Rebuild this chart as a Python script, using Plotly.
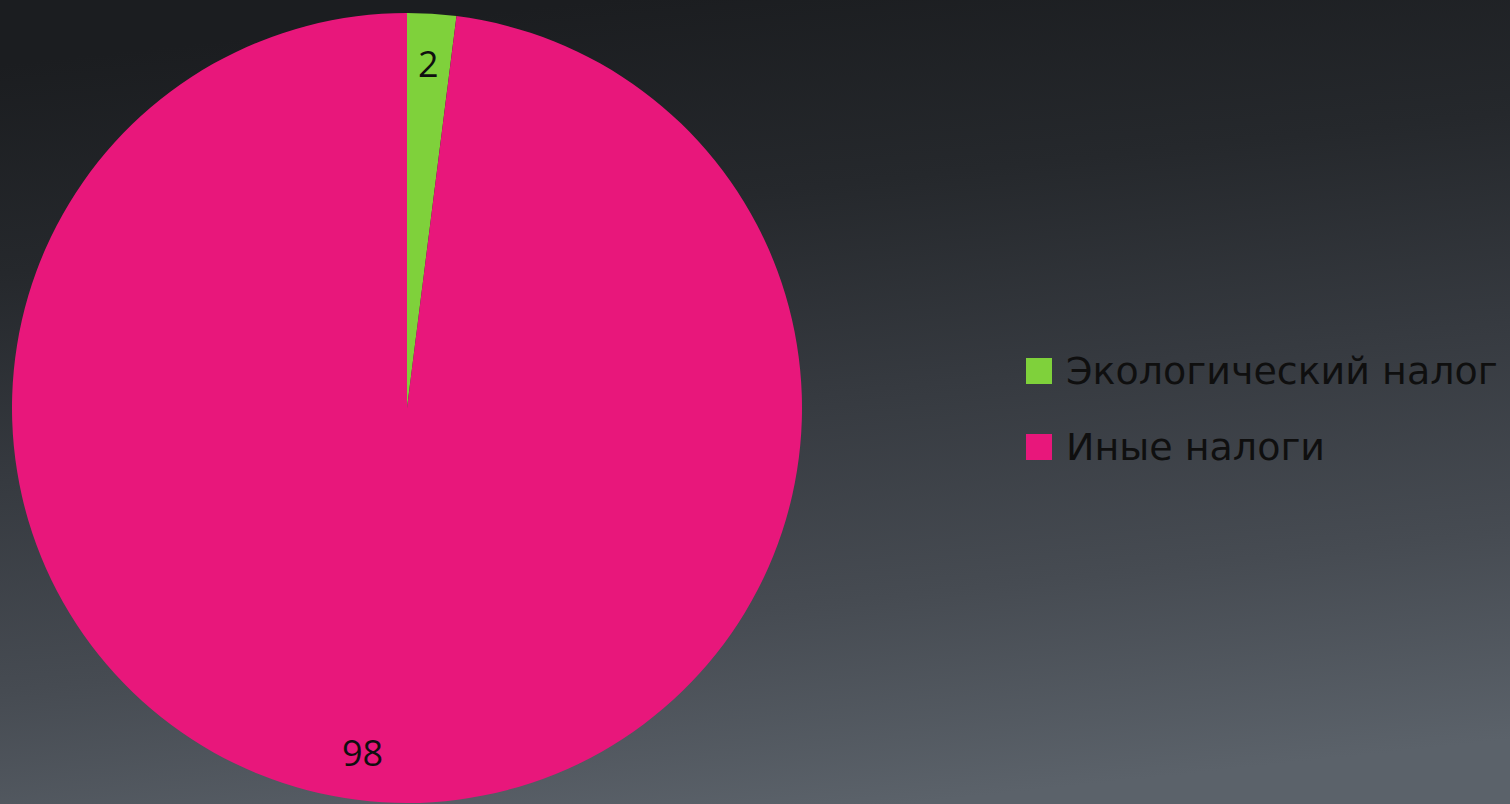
import base64, math
import plotly.graph_objects as go

labels = ["Экологический налог", "Иные налоги"]
values = [2, 98]
colors = ["#7fd13b", "#e8177b"]

W, H = 1510, 804
svg = f'''<svg xmlns="http://www.w3.org/2000/svg" width="{W}" height="{H}" preserveAspectRatio="none">
<defs><linearGradient id="g" x1="0.4" y1="0" x2="0.6" y2="1">
<stop offset="0" stop-color="#1b1d20"/><stop offset="0.25" stop-color="#25282c"/>
<stop offset="0.5" stop-color="#363a40"/><stop offset="0.75" stop-color="#464b52"/>
<stop offset="1" stop-color="#5b626a"/></linearGradient></defs>
<rect width="{W}" height="{H}" fill="url(#g)"/></svg>'''
bg = "data:image/svg+xml;base64," + base64.b64encode(svg.encode()).decode()

dom_x = [12 / W, 802 / W]
dom_y = [1 - 803 / H, 1 - 13 / H]

fig = go.Figure(go.Pie(
    labels=labels, values=values, sort=False, direction="clockwise", rotation=0,
    marker=dict(colors=colors, line=dict(width=0)),
    textinfo="none", hoverinfo="label+value", showlegend=False,
    domain=dict(x=dom_x, y=dom_y),
))

# data labels near the outer edge of each slice
cx = (dom_x[0] + dom_x[1]) / 2 * W
cy = (1 - (dom_y[0] + dom_y[1]) / 2) * H
R = (dom_x[1] - dom_x[0]) * W / 2
total = sum(values)
acc = 0
anns, shapes = [], []
for v in values:
    mid = (acc + v / 2) / total * 2 * math.pi
    acc += v
    px = cx + 0.875 * R * math.sin(mid)
    py = cy - 0.875 * R * math.cos(mid)
    anns.append(dict(x=px / W, y=1 - py / H, xref="paper", yref="paper",
                     text=str(v), showarrow=False,
                     xanchor="right" if math.sin(mid) < -0.01 else "center",
                     yanchor="middle",
                     font=dict(family="Open Sans", size=36, color="#0f0f0f")))

# legend (large swatches, wide row spacing)
leg_x, leg_y0, row_h, sw = 1026, 371, 76, 26
for i, (lab, col) in enumerate(zip(labels, colors)):
    yc = leg_y0 + i * row_h
    shapes.append(dict(type="rect", xref="paper", yref="paper",
                       x0=leg_x / W, x1=(leg_x + sw) / W,
                       y0=1 - (yc + sw / 2) / H, y1=1 - (yc - sw / 2) / H,
                       fillcolor=col, line=dict(width=0)))
    anns.append(dict(x=(leg_x + sw + 12) / W, y=1 - yc / H, xref="paper", yref="paper",
                     text=lab, showarrow=False, xanchor="left", yanchor="middle",
                     font=dict(family="DejaVu Sans", size=38, color="#0f0f0f")))

fig.update_layout(
    width=W, height=H,
    margin=dict(l=0, r=0, t=0, b=0),
    paper_bgcolor="#2a2d31",
    images=[dict(source=bg, xref="paper", yref="paper", x=0, y=1, sizex=1, sizey=1,
                 sizing="stretch", layer="below", xanchor="left", yanchor="top")],
    annotations=anns, shapes=shapes,
)
fig.write_html("out.html", config={"displayModeBar": False},
               post_script="document.body.style.margin='0';document.body.style.overflow='hidden';")
